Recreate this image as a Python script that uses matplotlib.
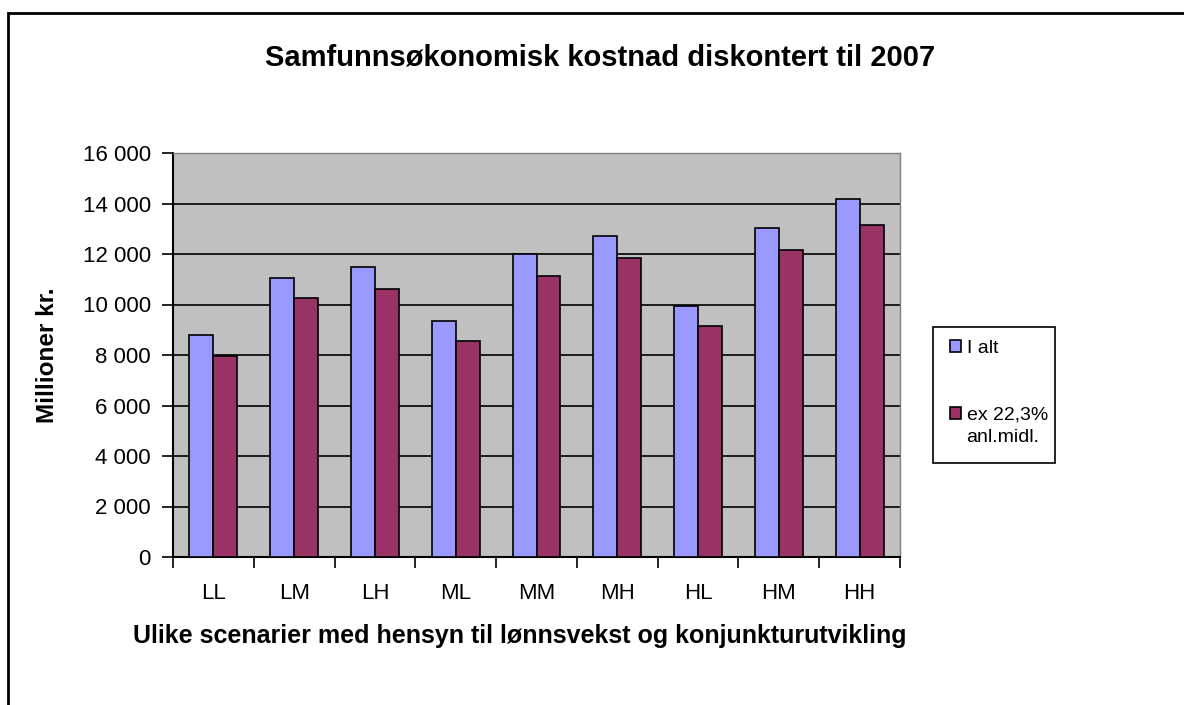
import numpy as np
import matplotlib.pyplot as plt
from matplotlib.patches import Rectangle, Patch
from matplotlib.ticker import FuncFormatter

plt.rcParams['font.family'] = ['Liberation Sans', 'DejaVu Sans']

# data
scenarios = ['LL', 'LM', 'LH', 'ML', 'MM', 'MH', 'HL', 'HM', 'HH']
i_alt = [8800, 11050, 11500, 9350, 12000, 12720, 9950, 13020, 14180]
ex_anl = [7950, 10250, 10600, 8550, 11130, 11850, 9150, 12160, 13160]
series_names = ['I alt', 'ex 22,3%', 'anl.midl.']
y_ticks = [0, 2000, 4000, 6000, 8000, 10000, 12000, 14000, 16000]

W, H = 1184, 705
fig = plt.figure(figsize=(W / 100, H / 100), dpi=100)

# outer chart border (right and bottom fall outside the image)
fig.patches.append(Rectangle((8 / W, -0.1), 1.2, 1 - 13 / H + 0.1,
                             transform=fig.transFigure, fill=False,
                             edgecolor='black', linewidth=2))

ax = fig.add_axes([173 / W, 1 - 557 / H, (900 - 173) / W, (557 - 153) / H])
ax.set_facecolor('#C0C0C0')

x = np.arange(len(scenarios))
bw = 0.297
b1 = ax.bar(x - bw / 2, i_alt, bw, color='#9999FF', edgecolor='black',
            linewidth=1.2, zorder=3)
b2 = ax.bar(x + bw / 2, ex_anl, bw, color='#993366', edgecolor='black',
            linewidth=1.2, zorder=3)

ax.set_xlim(-0.5, len(scenarios) - 0.5)
ax.set_ylim(0, 16000)
ax.set_yticks(y_ticks)
ax.yaxis.set_major_formatter(FuncFormatter(lambda v, p: f'{int(v):,}'.replace(',', ' ')))
ax.grid(axis='y', color='black', linewidth=1.2, zorder=1)
ax.set_axisbelow(True)

# category ticks at group boundaries, labels centred
ax.set_xticks(np.arange(-0.5, len(scenarios)), minor=False)
ax.set_xticklabels([])
ax.set_xticks(x, minor=True)
ax.set_xticklabels(scenarios, minor=True)
ax.tick_params(axis='x', which='major', length=8, width=1.2, direction='out')
ax.tick_params(axis='x', which='minor', length=0, pad=19, labelsize=16)
ax.tick_params(axis='y', length=8, width=1.2, direction='out', labelsize=16, pad=8)

for s in ['top', 'right']:
    ax.spines[s].set_color('#808080')
    ax.spines[s].set_linewidth(1)
for s in ['left', 'bottom']:
    ax.spines[s].set_linewidth(1.5)

fig.text(520 / W, 1 - 636 / H,
         'Ulike scenarier med hensyn til lønnsvekst og konjunkturutvikling',
         ha='center', va='center', fontsize=18, fontweight='bold')
fig.text(47 / W, 1 - 355 / H, 'Millioner kr.', rotation=90,
         ha='center', va='center', fontsize=17.5, fontweight='bold')
fig.text(600 / W, 1 - 57 / H, 'Samfunnsøkonomisk kostnad diskontert til 2007',
         ha='center', va='center', fontsize=21, fontweight='bold')

# legend: content without frame, frame drawn separately
blank = Patch(facecolor='none', edgecolor='none')
handles = [b1.patches[0], blank, blank, b2.patches[0], blank]
labels = [series_names[0], ' ', ' ', series_names[1], series_names[2]]
leg = fig.legend(handles, labels, loc='upper left',
                 bbox_to_anchor=(950 / W, 1 - 340 / H),
                 fontsize=14, frameon=False,
                 handlelength=0.55, handleheight=0.55, handletextpad=0.3,
                 labelspacing=0.27, borderpad=0, borderaxespad=0)
fig.patches.append(Rectangle((933 / W, 1 - 463 / H), (1055 - 933) / W, (463 - 327) / H,
                             transform=fig.transFigure, fill=False,
                             edgecolor='black', linewidth=1.2))

fig.savefig('out.png', dpi=100)
